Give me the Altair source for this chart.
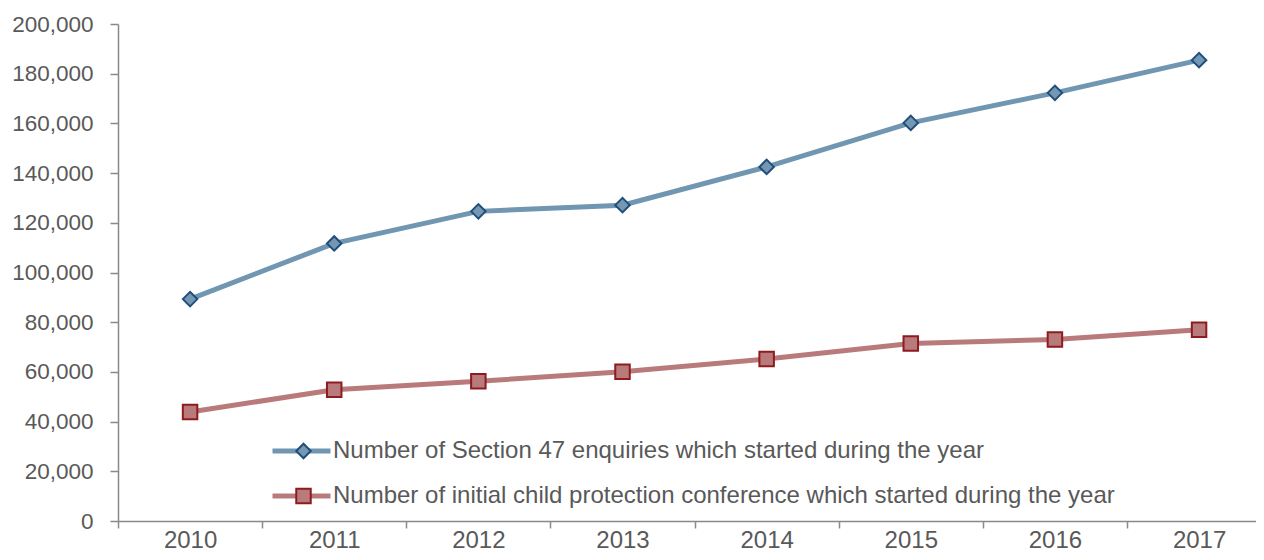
import altair as alt
import pandas as pd

years = [2010, 2011, 2012, 2013, 2014, 2015, 2016, 2017]
s47 = [89300, 111700, 124600, 127100, 142500, 160200, 172290, 185450]
icpc = [43900, 52800, 56200, 60100, 65200, 71400, 73050, 76930]
series_names = [
    "Number of Section 47 enquiries which started during the year",
    "Number of initial child protection conference which started during the year",
]
line_colors = ["#7096B2", "#B97A7C"]
marker_fill = ["#7497B3", "#B97A7C"]
marker_stroke = ["#1F4E79", "#8E1B20"]
shapes = ["diamond", "square"]

rows = []
for y, a, b in zip(years, s47, icpc):
    rows.append({"year": y, "value": a, "series": series_names[0], "series2": series_names[0]})
    rows.append({"year": y, "value": b, "series": series_names[1], "series2": series_names[1]})
df = pd.DataFrame(rows)

FONT = "Liberation Sans"
TXT = "#595959"
AX = "#898989"

x_vals = [2009.5 + i for i in range(8)] + years
x_enc = alt.X(
    "year:Q",
    scale=alt.Scale(domain=[2009.5, 2017.395], nice=False, zero=False),
    axis=alt.Axis(
        values=x_vals,
        title=None,
        grid=False,
        labelExpr="datum.value % 1 == 0 ? datum.value : ''",
        labelFont=FONT,
        labelFontSize=24,
        labelColor=TXT,
        labelBaseline="alphabetic",
        labelPadding=19,
        labelFlush=False,
        labelOverlap=False,
        tickSize=7,
        tickColor=AX,
        tickWidth=1.5,
        tickOpacity={"condition": {"test": "datum.value % 1 == 0", "value": 0}, "value": 1},
        domainColor=AX,
        domainWidth=1.5,
    ),
)
y_enc = alt.Y(
    "value:Q",
    scale=alt.Scale(domain=[0, 200000], nice=False),
    axis=alt.Axis(
        values=list(range(0, 200001, 20000)),
        format=",.0f",
        title=None,
        grid=False,
        labelFont=FONT,
        labelFontSize=22.5,
        labelColor=TXT,
        labelPadding=17,
        tickSize=8,
        tickColor=AX,
        tickWidth=1.5,
        domainColor=AX,
        domainWidth=1.5,
    ),
)

base = alt.Chart(df).encode(x=x_enc, y=y_enc)

lines = base.mark_line(strokeWidth=5).encode(
    color=alt.Color(
        "series:N",
        scale=alt.Scale(range=line_colors),
        legend=alt.Legend(
            title=None,
            orient="none",
            legendX=152,
            legendY=415,
            padding=0,
            symbolType="stroke",
            symbolSize=3364,
            symbolStrokeWidth=5,
            clipHeight=24,
            rowPadding=21,
            labelOffset=0,
            labelFont=FONT,
            labelFontSize=24,
            labelColor=TXT,
            labelLimit=1000,
        ),
    ),
)

pts = base.mark_point(filled=True, size=210, strokeWidth=2, opacity=1).encode(
    fill=alt.Fill(
        "series2:N",
        scale=alt.Scale(range=marker_fill),
        legend=alt.Legend(
            title=None,
            orient="none",
            legendX=173.5,
            legendY=415,
            padding=0,
            symbolSize=210,
            symbolStrokeWidth=2,
            clipHeight=24,
            rowPadding=21,
            labelExpr="''",
            labelFontSize=24,
            labelLimit=1000,
        ),
    ),
    stroke=alt.Stroke("series2:N", scale=alt.Scale(range=marker_stroke)),
    shape=alt.Shape("series2:N", scale=alt.Scale(range=shapes)),
)

chart = (
    alt.layer(lines, pts)
    .properties(
        width=1138,
        height=497,
        background="white",
        autosize=alt.AutoSizeParams(type="none"),
        padding={"left": 110, "top": 16, "right": 0, "bottom": 31},
    )
    .configure_view(strokeWidth=0, stroke="transparent")
)

chart.save("out.html", embed_options={"renderer": "svg", "actions": False})
